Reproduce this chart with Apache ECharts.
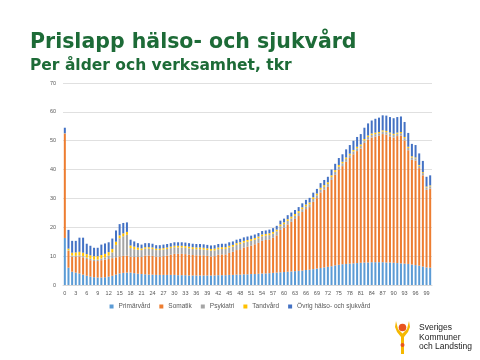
<!DOCTYPE html>
<html><head><meta charset="utf-8">
<script src="https://cdn.jsdelivr.net/npm/echarts@6/dist/echarts.min.js"></script>
<style>html,body{margin:0;padding:0;background:#fff}#c{width:480px;height:360px}</style>
</head><body><div id="c"></div>
<script>
const ages = ['0','1','2','3','4','5','6','7','8','9','10','11','12','13','14','15','16','17','18','19','20','21','22','23','24','25','26','27','28','29','30','31','32','33','34','35','36','37','38','39','40','41','42','43','44','45','46','47','48','49','50','51','52','53','54','55','56','57','58','59','60','61','62','63','64','65','66','67','68','69','70','71','72','73','74','75','76','77','78','79','80','81','82','83','84','85','86','87','88','89','90','91','92','93','94','95','96','97','98','99','100'];
const seriesNames = ['Primärvård','Somatik','Psykiatri','Tandvård','Övrig hälso- och sjukvård'];
const yTicks = [0,10,20,30,40,50,60,70];

const primarvard = [16.3,6.0,4.6,4.3,4.0,3.6,3.2,2.9,2.7,2.6,2.6,2.7,2.9,3.2,3.6,4.0,4.2,4.3,4.3,4.1,3.9,3.8,3.7,3.6,3.6,3.5,3.5,3.5,3.5,3.5,3.5,3.4,3.4,3.4,3.3,3.3,3.3,3.3,3.3,3.3,3.3,3.3,3.4,3.4,3.4,3.5,3.5,3.6,3.6,3.7,3.7,3.8,3.8,3.9,4.0,4.0,4.1,4.2,4.3,4.4,4.5,4.6,4.7,4.8,4.9,5.0,5.2,5.3,5.5,5.7,5.9,6.1,6.3,6.5,6.8,7.0,7.2,7.3,7.4,7.5,7.6,7.7,7.8,7.8,7.9,7.9,7.9,7.9,7.8,7.8,7.7,7.6,7.5,7.4,7.3,7.1,6.9,6.7,6.4,6.1,6.0];
const somatik = [36.2,5.8,5.2,5.4,5.9,6.0,5.8,5.7,5.6,5.7,6.0,6.1,6.1,6.1,6.0,5.9,5.9,5.9,5.5,5.6,5.8,5.9,6.5,6.6,6.5,6.3,6.3,6.5,6.7,7.0,7.3,7.4,7.4,7.3,7.2,7.1,7.0,7.0,7.0,6.8,6.6,6.7,7.1,7.2,7.2,7.6,8.0,8.5,8.8,9.3,9.6,9.8,10.3,10.7,11.3,11.6,11.7,12.2,12.9,14.7,15.3,16.4,17.2,18.1,19.0,20.3,21.1,21.7,23.3,24.4,26.2,26.9,27.7,29.9,31.4,33.0,34.0,35.4,36.6,37.8,38.8,39.6,41.4,42.6,43.2,43.5,43.8,44.4,44.3,43.7,43.4,44.0,44.3,42.7,39.4,36.3,36.2,33.8,31.6,26.9,27.4];
const psykiatri = [0.1,0.2,0.4,0.4,0.4,0.4,0.5,0.5,0.5,0.5,0.6,0.8,1.2,2.0,4.3,6.3,6.8,7.2,3.0,2.7,2.5,2.4,2.4,2.4,2.4,2.3,2.3,2.3,2.3,2.3,2.3,2.2,2.2,2.2,2.2,2.1,2.1,2.1,2.0,2.0,2.0,2.0,1.9,1.9,1.9,1.9,1.8,1.8,1.8,1.7,1.7,1.7,1.6,1.6,1.6,1.5,1.5,1.4,1.4,1.3,1.3,1.2,1.2,1.1,1.1,1.0,1.0,1.0,1.0,1.0,1.0,1.0,1.0,1.0,1.0,1.0,1.0,1.0,1.0,1.0,1.0,0.9,0.9,0.9,0.9,0.9,0.9,0.9,0.9,0.9,0.9,0.8,0.8,0.8,0.8,0.8,0.8,0.8,0.8,0.8,0.8];
const tandvard = [0.0,0.6,1.0,1.2,1.2,1.2,1.2,1.2,1.2,1.2,1.2,1.2,1.2,1.2,1.1,1.0,1.0,1.0,0.9,0.9,0.8,0.6,0.5,0.5,0.5,0.5,0.5,0.5,0.5,0.5,0.5,0.6,0.6,0.6,0.6,0.6,0.6,0.6,0.6,0.6,0.6,0.6,0.6,0.6,0.6,0.6,0.6,0.6,0.6,0.6,0.6,0.6,0.6,0.6,0.6,0.6,0.6,0.6,0.6,0.6,0.6,0.6,0.6,0.6,0.6,0.6,0.6,0.6,0.6,0.6,0.6,0.6,0.6,0.6,0.6,0.6,0.5,0.5,0.5,0.5,0.5,0.5,0.5,0.5,0.5,0.5,0.4,0.4,0.4,0.4,0.4,0.4,0.4,0.4,0.4,0.4,0.3,0.3,0.3,0.3,0.3];
const ovrig = [1.9,6.5,4.1,4.0,4.9,5.2,3.6,3.3,2.9,2.9,3.6,3.6,3.4,3.6,3.9,3.9,3.6,3.3,2.0,1.8,1.5,1.3,1.4,1.4,1.3,1.2,1.2,1.2,1.2,1.2,1.2,1.2,1.2,1.2,1.2,1.2,1.2,1.2,1.2,1.2,1.2,1.2,1.2,1.2,1.2,1.2,1.2,1.2,1.2,1.2,1.2,1.2,1.2,1.2,1.2,1.2,1.3,1.3,1.3,1.3,1.3,1.4,1.4,1.4,1.4,1.4,1.6,1.6,1.6,1.6,1.6,1.8,1.9,2.0,2.2,2.4,2.6,2.8,3.0,3.2,3.4,3.6,3.9,4.2,4.5,4.8,5.0,5.2,5.3,5.4,5.4,5.4,5.4,5.2,4.8,4.3,4.3,4.0,3.9,3.4,3.5];

const colors = ['#5B9BD5','#ED7D31','#A5A5A5','#FFC000','#4472C4'];
const dataSets = [primarvard, somatik, psykiatri, tandvard, ovrig];

const chart = echarts.init(document.getElementById('c'), null, {renderer:'canvas'});
chart.setOption({
  animation:false,
  color: colors,
  title:[
    {text:'Prislapp hälso- och sjukvård', left:25, top:27,
     textStyle:{fontFamily:'DejaVu Sans', fontWeight:'bold', fontSize:20.5, color:'#1d6b37'}},
    {text:'Per ålder och verksamhet, tkr', left:25, top:53,
     textStyle:{fontFamily:'DejaVu Sans', fontWeight:'bold', fontSize:15.5, color:'#1d6b37'}}
  ],
  grid:{left:63, right:48, top:83, bottom:75},
  legend:{bottom:45, left:'center', itemWidth:4, itemHeight:4, itemGap:9, icon:'rect',
    textStyle:{fontFamily:'Liberation Sans', fontSize:6.5, color:'#595959'},
    data: seriesNames},
  xAxis:{type:'category', data:ages,
    axisLine:{lineStyle:{color:'#d9d9d9'}}, axisTick:{show:false},
    axisLabel:{interval:2, fontFamily:'Liberation Sans', fontSize:5.5, color:'#595959', margin:5}},
  yAxis:{type:'value', min:yTicks[0], max:yTicks[yTicks.length-1], interval:10,
    axisLine:{show:false}, axisTick:{show:false},
    splitLine:{lineStyle:{color:'#e0e0e0', width:1}},
    axisLabel:{fontFamily:'Liberation Sans', fontSize:5.5, color:'#595959', margin:7}},
  series: seriesNames.map((n,i)=>({name:n, type:'bar', stack:'tot', data:dataSets[i],
    barCategoryGap:'45%', itemStyle:{color:colors[i]}})),
  graphic:[
    {type:'polygon', shape:{points:[[396,321],[395,327],[397,332],[401,337],[401,354],[404,354],[404,337],[408,332],[410,327],[409,321],[407,329],[402.5,333.5],[398,329]]}, style:{fill:'#F5B800'}},
    {type:'circle', shape:{cx:402.5, cy:327.5, r:3.8}, style:{fill:'#E8541E'}},
    {type:'circle', shape:{cx:402.5, cy:345, r:2}, style:{fill:'#E8541E'}},
    {type:'text', x:419, y:323, style:{text:'Sveriges\nKommuner\noch Landsting', font:'8.5px "Liberation Sans"', lineHeight:9.5, fill:'#222'}}
  ]
});
</script></body></html>
